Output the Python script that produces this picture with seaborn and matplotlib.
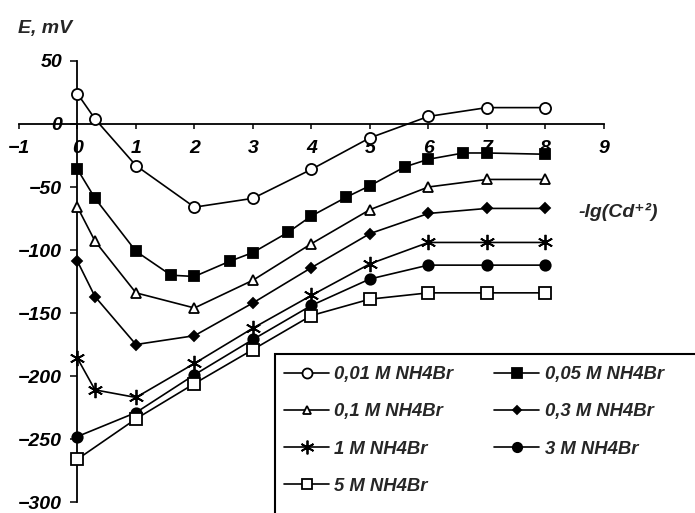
import matplotlib
matplotlib.use("Agg")
import matplotlib.pyplot as plt
import seaborn as sns
from matplotlib.patches import Rectangle

# values: x = -lg(Cd+2), y = E, mV
labels = ["0,01 M NH4Br", "0,05 M NH4Br", "0,1 M NH4Br", "0,3 M NH4Br",
          "1 M NH4Br", "3 M NH4Br", "5 M NH4Br"]

x_001 = [0, 0.3, 1, 2, 3, 4, 5, 6, 7, 8]
y_001 = [24, 4, -33, -66, -59, -36, -11, 6, 13, 13]

x_005 = [0, 0.3, 1, 1.6, 2, 2.6, 3, 3.6, 4, 4.6, 5, 5.6, 6, 6.6, 7, 8]
y_005 = [-36, -59, -101, -120, -121, -109, -102, -86, -73, -58, -49, -34, -28, -23, -23, -24]

x_01 = [0, 0.3, 1, 2, 3, 4, 5, 6, 7, 8]
y_01 = [-66, -93, -134, -146, -124, -95, -68, -50, -44, -44]

x_03 = [0, 0.3, 1, 2, 3, 4, 5, 6, 7, 8]
y_03 = [-109, -137, -175, -168, -142, -114, -87, -71, -67, -67]

x_1 = [0, 0.3, 1, 2, 3, 4, 5, 6, 7, 8]
y_1 = [-186, -211, -217, -190, -162, -136, -111, -94, -94, -94]

x_3 = [0, 1, 2, 3, 4, 5, 6, 7, 8]
y_3 = [-248, -229, -199, -171, -144, -123, -112, -112, -112]

x_5 = [0, 1, 2, 3, 4, 5, 6, 7, 8]
y_5 = [-266, -234, -206, -179, -152, -139, -134, -134, -134]

xs_all = [x_001, x_005, x_01, x_03, x_1, x_3, x_5]
ys_all = [y_001, y_005, y_01, y_03, y_1, y_3, y_5]

# marker, size, face colour
styles = {
    "0,01 M NH4Br": ("o", 8, "white"),
    "0,05 M NH4Br": ("s", 7.5, "black"),
    "0,1 M NH4Br": ("^", 7, "white"),
    "0,3 M NH4Br": ("D", 5, "black"),
    "1 M NH4Br": ((6, 2, 0), 11, "black"),
    "3 M NH4Br": ("o", 7.5, "black"),
    "5 M NH4Br": ("s", 8, "white"),
}

sns.set_theme(style="white")
plt.rcParams["font.family"] = ["Liberation Sans", "DejaVu Sans"]
plt.rcParams["font.style"] = "italic"
plt.rcParams["font.weight"] = "bold"
plt.rcParams["axes.unicode_minus"] = True

fig = plt.figure(figsize=(6.95, 5.13), dpi=100)
ax = fig.add_axes([0, 0, 1, 1])
ax.patch.set_alpha(0)

handles = []
for lab, xs, ys in zip(labels, xs_all, ys_all):
    m, ms, fc = styles[lab]
    sns.lineplot(x=xs, y=ys, ax=ax, color="black", linewidth=1.2,
                 marker=m, markersize=ms, markerfacecolor=fc,
                 markeredgecolor="black", markeredgewidth=1.3,
                 sort=False, legend=False, label=lab)
    handles.append(ax.get_lines()[-1])

# axes cross at zero like the original
ax.set_xlim(-1.325, 10.56)
ax.set_ylim(-308.7, 98.4)
ax.spines["left"].set_position(("data", 0))
ax.spines["bottom"].set_position(("data", 0))
ax.spines["top"].set_visible(False)
ax.spines["right"].set_visible(False)
ax.spines["left"].set_bounds(-300, 50)
ax.spines["bottom"].set_bounds(-1, 9)
for s in ["left", "bottom"]:
    ax.spines[s].set_color("black")
    ax.spines[s].set_linewidth(1.3)
    ax.spines[s].set_zorder(1)

ax.set_xticks(range(-1, 10))
ax.set_yticks(range(-300, 51, 50))
ax.tick_params(axis="x", direction="out", length=3.5, width=1.1, pad=8,
               labelsize=14, colors="black", bottom=True)
ax.tick_params(axis="y", direction="out", length=5, width=1.1, pad=6,
               labelsize=14, colors="black", left=True)
ax.set_axisbelow(True)
ax.set_xlabel("")
ax.set_ylabel("")

ax.text(0.065, 0.945, "E, mV", transform=ax.transAxes, ha="center",
        va="center", fontsize=14)
ax.text(0.889, 0.587, "-lg(Cd⁺²)", transform=ax.transAxes, ha="center",
        va="center", fontsize=14)

# legend in row order like the original
order = [0, 2, 4, 6, 1, 3, 5]
ax.legend([handles[i] for i in order], [labels[i] for i in order],
          ncol=2, loc="upper left", bbox_to_anchor=(284 / 695, 1 - 366 / 513),
          bbox_transform=fig.transFigure, frameon=False, fontsize=13.3,
          handlelength=2.45, handletextpad=0.28, columnspacing=2.2,
          labelspacing=1.1, borderpad=0, borderaxespad=0, markerscale=0.9)
fig.add_artist(Rectangle((275 / 695, -0.05), 0.7, 1 - 354 / 513 + 0.05,
                         transform=fig.transFigure, fill=False,
                         edgecolor="black", linewidth=1.5))

fig.savefig("out.png", dpi=100)
